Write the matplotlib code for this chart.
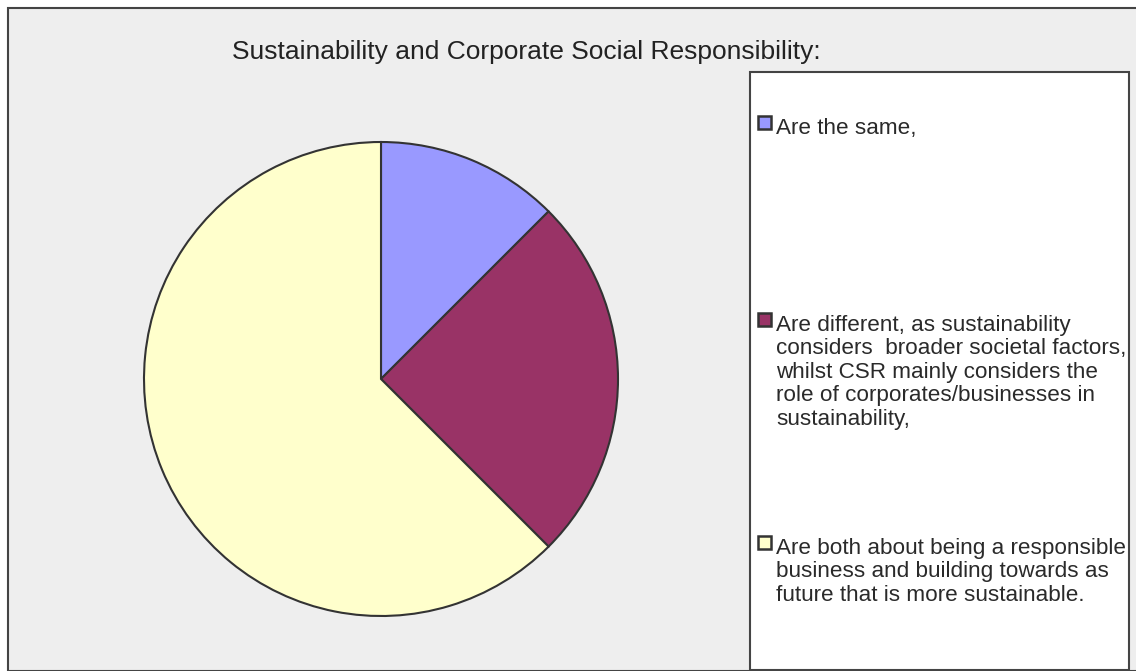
import matplotlib.pyplot as plt
from matplotlib.patches import Rectangle

W, H = 1136, 671
DPI = 100

TITLE = "Sustainability and Corporate Social Responsibility:"
LABELS = [
    "Are the same,",
    "Are different, as sustainability\nconsiders  broader societal factors,\n"
    "whilst CSR mainly considers the\nrole of corporates/businesses in\nsustainability,",
    "Are both about being a responsible\nbusiness and building towards as\n"
    "future that is more sustainable.",
]
SHARES = [1, 2, 5]
COLORS = ["#9999FF", "#993366", "#FFFFCC"]

# first-line centre (px from top) of each legend entry
ENTRY_Y = [126, 323, 546]


def fx(px):
    return px / W


def fy(py):
    return 1 - py / H


def main():
    plt.rcParams["font.family"] = ["Liberation Sans", "DejaVu Sans"]
    fig = plt.figure(figsize=(W / DPI, H / DPI), dpi=DPI)
    fig.patch.set_facecolor("white")

    # grey chart area with its frame, kept behind the pie
    fig.patches.append(Rectangle((fx(8), 0), 1, fy(8), transform=fig.transFigure,
                                 facecolor="#EEEEEE", edgecolor="#444444",
                                 linewidth=1.5, zorder=-5))

    fig.text(fx(526), fy(52), TITLE, ha="center", va="center",
             fontsize=19, color="#222222")

    cx, cy, r = 381, 379, 237
    ax = fig.add_axes([fx(cx - r), fy(cy + r), fx(2 * r), (2 * r) / H])
    ax.pie(SHARES, colors=COLORS, startangle=90, counterclock=False,
           wedgeprops=dict(edgecolor="#333333", linewidth=1.5))
    ax.set_xlim(-1, 1)
    ax.set_ylim(-1, 1)
    ax.set_aspect("equal")
    ax.axis("off")

    # legend box
    fig.patches.append(Rectangle((fx(750), fy(670)), fx(379), (670 - 72) / H,
                                 transform=fig.transFigure, facecolor="white",
                                 edgecolor="#444444", linewidth=1.5))
    for label, color, y in zip(LABELS, COLORS, ENTRY_Y):
        fig.patches.append(Rectangle((fx(758), fy(y + 3)), fx(13), 13 / H,
                                     transform=fig.transFigure, facecolor=color,
                                     edgecolor="#333333", linewidth=1.8))
        fig.text(fx(776), fy(y - 8), label, ha="left", va="top",
                 fontsize=16.2, color="#2a2a2a", linespacing=1.15)

    fig.savefig("out.png", dpi=DPI)


if __name__ == "__main__":
    main()
